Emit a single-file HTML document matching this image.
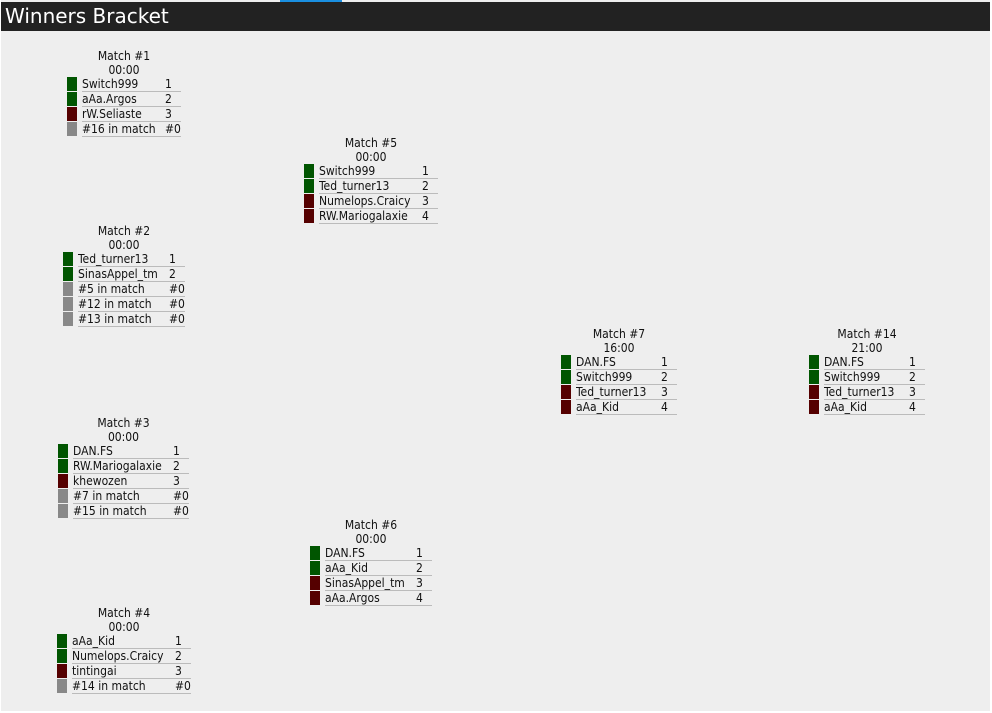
<!DOCTYPE html>
<html><head><meta charset="utf-8"><style>
body{margin:0;width:992px;height:713px;background:#fff;font-family:"DejaVu Sans Condensed","DejaVu Sans","Liberation Sans",sans-serif;font-size:12px;color:#111;overflow:hidden;position:relative}
#main{position:absolute;left:1px;top:0;width:989px;height:711px;background:#eee}
#hdr{position:absolute;left:1px;top:2px;width:989px;height:29px;background:#222;color:#fff;font-family:"DejaVu Sans",sans-serif;font-size:20px;line-height:29px;padding-left:4px;box-sizing:border-box}
#blue{position:absolute;left:280px;top:0;width:62px;height:2px;background:#1a8fe0}
.m{position:absolute;white-space:nowrap}
.t{text-align:center;line-height:14px}
.r{display:flex;height:15px;line-height:15px}
.b{width:10px;height:14px;margin-right:5px;flex-shrink:0}
.n{flex:1;border-bottom:1px solid #bbb;display:flex;height:14px;line-height:15px;min-width:0}
.n span:first-child{flex:1;overflow:hidden}
.s{width:16px;flex-shrink:0;text-align:left}
.g{background:#005500}.d{background:#550000}.x{background:#888}
</style></head><body>
<div id="main"></div>
<div id="hdr">Winners Bracket</div>
<div id="blue"></div>
<div id="root"></div>
<script>
const matches=[
 {id:1,time:"00:00",x:67,y:49,w:114,p:[["Switch999","1","g"],["aAa.Argos","2","g"],["rW.Seliaste","3","d"],["#16 in match","#0","x"]]},
 {id:2,time:"00:00",x:63,y:224,w:122,p:[["Ted_turner13","1","g"],["SinasAppel_tm","2","g"],["#5 in match","#0","x"],["#12 in match","#0","x"],["#13 in match","#0","x"]]},
 {id:3,time:"00:00",x:58,y:416,w:131,p:[["DAN.FS","1","g"],["RW.Mariogalaxie","2","g"],["khewozen","3","d"],["#7 in match","#0","x"],["#15 in match","#0","x"]]},
 {id:4,time:"00:00",x:57,y:606,w:134,p:[["aAa_Kid","1","g"],["Numelops.Craicy","2","g"],["tintingai","3","d"],["#14 in match","#0","x"]]},
 {id:5,time:"00:00",x:304,y:136,w:134,p:[["Switch999","1","g"],["Ted_turner13","2","g"],["Numelops.Craicy","3","d"],["RW.Mariogalaxie","4","d"]]},
 {id:6,time:"00:00",x:310,y:518,w:122,p:[["DAN.FS","1","g"],["aAa_Kid","2","g"],["SinasAppel_tm","3","d"],["aAa.Argos","4","d"]]},
 {id:7,time:"16:00",x:561,y:327,w:116,p:[["DAN.FS","1","g"],["Switch999","2","g"],["Ted_turner13","3","d"],["aAa_Kid","4","d"]]},
 {id:14,time:"21:00",x:809,y:327,w:116,p:[["DAN.FS","1","g"],["Switch999","2","g"],["Ted_turner13","3","d"],["aAa_Kid","4","d"]]}
];
const root=document.getElementById('root');
matches.forEach(m=>{
 const d=document.createElement('div');d.className='m';
 
 
 d.style.left=m.x+'px';d.style.top=m.y+'px';d.style.width=m.w+'px';
 let h='<div class="t">Match #'+m.id+'<br>'+m.time+'</div>';
 m.p.forEach(p=>{h+='<div class="r"><div class="b '+p[2]+'"></div><div class="n"><span>'+p[0]+'</span><span class="s">'+p[1]+'</span></div></div>';});
 d.innerHTML=h;root.appendChild(d);
});
</script>
</body></html>
